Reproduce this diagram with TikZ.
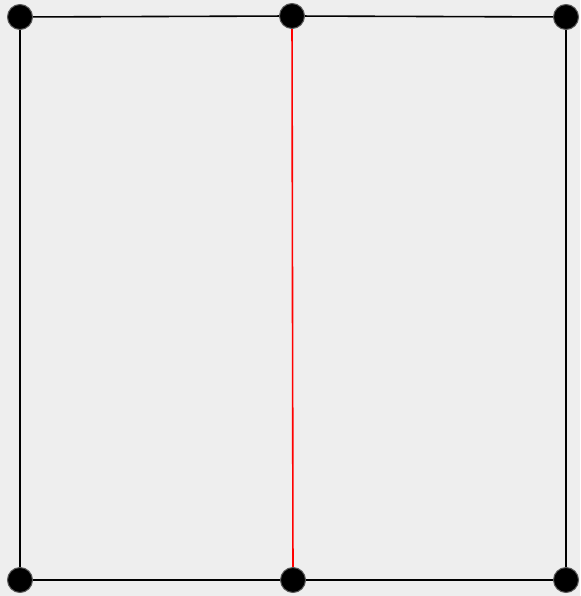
\documentclass[tikz,border=0pt]{standalone}
\usetikzlibrary{backgrounds}
\begin{document}
\begin{tikzpicture}[x=1pt,y=-1pt,
  vtx/.style={circle,fill=black,draw=gray!70!black,line width=1pt,minimum size=25pt,inner sep=0pt},
  edge/.style={line width=1.6pt,black},
  redge/.style={line width=1.6pt,red}]
\useasboundingbox (0,0) rectangle (580,596);
\node[vtx] (a) at (20,17) {};
\node[vtx] (b) at (292,16) {};
\node[vtx] (c) at (566,17) {};
\node[vtx] (d) at (20,580) {};
\node[vtx] (e) at (293,580) {};
\node[vtx] (f) at (566,580) {};
\begin{pgfonlayer}{background}
\fill[gray!13] (0,0) rectangle (580,596);
\draw[edge] (a.center) -- (b.center);
\draw[edge] (b.center) -- (c.center);
\draw[edge] (a.center) -- (d.center);
\draw[edge] (c.center) -- (f.center);
\draw[edge] (d.center) -- (e.center);
\draw[edge] (e.center) -- (f.center);
\draw[redge] (b.center) -- (e.center);
\end{pgfonlayer}
\end{tikzpicture}
\end{document}
